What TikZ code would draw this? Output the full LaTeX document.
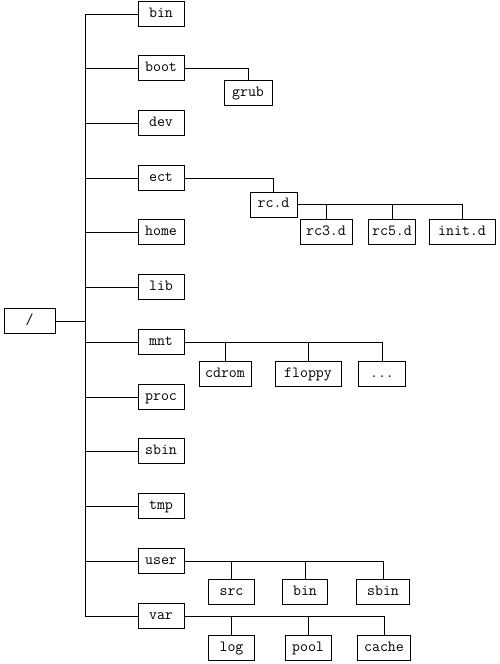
\documentclass[tikz,border=0pt]{standalone}
\usepackage{fontspec}
\begin{document}
\begin{tikzpicture}[x=1pt,y=-1pt,line width=1pt]

        \useasboundingbox (0,0) rectangle (500,664);
        \coordinate (trunk) at (85,0);

        \begin{scope}[every node/.style={draw,minimum height=25pt,inner sep=0pt,
            text height=9.5pt,text depth=3pt,
            font=\ttfamily\fontsize{15.5}{17}\selectfont}]
          \node[minimum width=51pt] (root) at (29.5,321) {/};

          \begin{scope}[every node/.append style={minimum width=46pt}]
            \node (bin)  at (161,14)  {bin};
            \node (boot) at (161,68)  {boot};
            \node (dev)  at (161,123) {dev};
            \node (ect)  at (161,178) {ect};
            \node (home) at (161,232) {home};
            \node (lib)  at (161,287) {lib};
            \node (mnt)  at (161,342) {mnt};
            \node (proc) at (161,397) {proc};
            \node (sbin) at (161,451) {sbin};
            \node (tmp)  at (161,506) {tmp};
            \node (user) at (161,561) {user};
            \node (var)  at (161,616) {var};
          \end{scope}

          \node[minimum width=48pt] (grub)   at (248,93)    {grub};
          \node[minimum width=47pt] (rcd)    at (273.5,204.5) {rc.d};
          \node[minimum width=52pt] (rcthree) at (326,232)  {rc3.d};
          \node[minimum width=47pt] (rcfive) at (392,232)   {rc5.d};
          \node[minimum width=66pt] (initd)  at (462,232)   {init.d};
          \node[minimum width=52pt] (cdrom)  at (225,374)   {cdrom};
          \node[minimum width=66pt] (floppy) at (308,374)   {floppy};
          \node[minimum width=47pt] (more)   at (382,374)   {...};
          \node[minimum width=46pt] (src)    at (231.5,592) {src};
          \node[minimum width=45pt] (ubin)   at (305,592)   {bin};
          \node[minimum width=53pt] (usbin)  at (383,592)   {sbin};
          \node[minimum width=46pt] (log)    at (231.5,648) {log};
          \node[minimum width=46pt] (pool)   at (308,648)   {pool};
          \node[minimum width=53pt] (cache)  at (384,648)   {cache};
        \end{scope}

        \begin{scope}[every edge/.style={draw,
            to path={(\tikztostart.east) -- (\tikztostart.east -| trunk) |- (\tikztotarget.west)}}]
          \path (root) edge (bin);
          \path (root) edge (boot);
          \path (root) edge (dev);
          \path (root) edge (ect);
          \path (root) edge (home);
          \path (root) edge (lib);
          \path (root) edge (mnt);
          \path (root) edge (proc);
          \path (root) edge (sbin);
          \path (root) edge (tmp);
          \path (root) edge (user);
          \path (root) edge (var);
        \end{scope}

        \begin{scope}[every edge/.style={draw,
            to path={(\tikztostart.east) -| (\tikztotarget.north)}}]
          \path (boot) edge (grub);
          \path (ect)  edge (rcd);
          \path (rcd)  edge (rcthree);
          \path (rcd)  edge (rcfive);
          \path (rcd)  edge (initd);
          \path (mnt)  edge (cdrom);
          \path (mnt)  edge (floppy);
          \path (mnt)  edge (more);
          \path (user) edge (src);
          \path (user) edge (ubin);
          \path (user) edge (usbin);
          \path (var)  edge (log);
          \path (var)  edge (pool);
          \path (var)  edge (cache);
        \end{scope}

      \end{tikzpicture}
\end{document}
